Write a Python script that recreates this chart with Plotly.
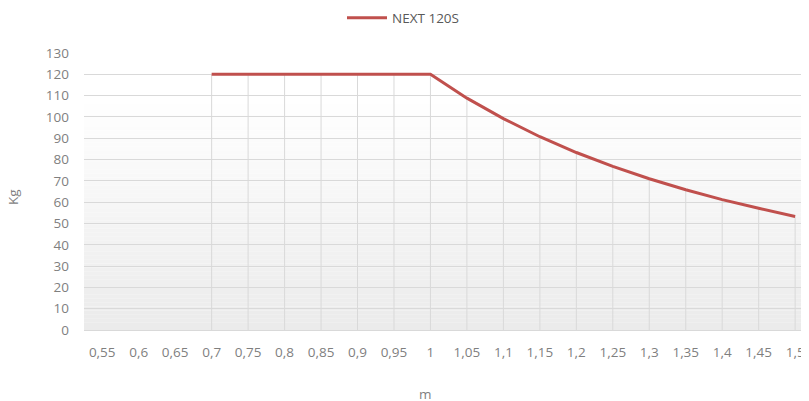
import plotly.graph_objects as go

categories = ["0,55", "0,6", "0,65", "0,7", "0,75", "0,8", "0,85", "0,9", "0,95", "1",
              "1,05", "1,1", "1,15", "1,2", "1,25", "1,3", "1,35", "1,4", "1,45", "1,5"]
load_kg = [None, None, None, 120, 120, 120, 120, 120, 120, 120,
           108.8, 99.2, 90.7, 83.3, 76.8, 71.0, 65.8, 61.2, 57.1, 53.3]
y_ticks = [0, 10, 20, 30, 40, 50, 60, 70, 80, 90, 100, 110, 120, 130]
series_name = "NEXT 120S"

# page body has an 8px margin; figure sized and positioned to compensate
OFF = 8
W, H = 809 - OFF, 401 - OFF
L, T = 84 - OFF, 53 - OFF
PLOT_BOTTOM = 330 - OFF
B = H - PLOT_BOTTOM

fig = go.Figure()

# drop lines
fig.add_trace(go.Scatter(
    x=categories, y=load_kg, mode="markers", marker=dict(size=0.1, opacity=0),
    error_y=dict(type="data", symmetric=False, array=[0] * len(load_kg),
                 arrayminus=load_kg, color="#d9d9d9", thickness=1, width=0),
    showlegend=False, hoverinfo="skip"))

fig.add_trace(go.Scatter(
    x=categories, y=load_kg, mode="lines", name=series_name,
    line=dict(color="#c0504d", width=3), connectgaps=False))

# gradient background bands
n = 60
top = 110.0
for i in range(n):
    y0 = top * i / n
    y1 = top * (i + 1) / n
    t = i / (n - 1)
    c = int(round(0xeb + (0xff - 0xeb) * t))
    fig.add_shape(type="rect", xref="paper", yref="y", x0=0, x1=1, y0=y0, y1=y1,
                  fillcolor=f"rgb({c},{c},{c})", line=dict(width=0), layer="below")

FS = 13.5
fig.update_layout(
    width=W, height=H,
    margin=dict(l=L, r=0, t=T, b=B, autoexpand=False),
    paper_bgcolor="white", plot_bgcolor="rgba(0,0,0,0)",
    font=dict(family="Open Sans, Liberation Sans, sans-serif", size=FS, color="#7f7f7f"),
    showlegend=True,
    legend=dict(orientation="h", xref="container", yref="container",
                x=(403 - OFF) / W, xanchor="center", y=1 - (18 - OFF) / H, yanchor="middle",
                font=dict(size=FS, color="#595959"), itemwidth=40),
    xaxis=dict(type="category", categoryorder="array", categoryarray=categories,
               range=[-0.5, 19.38], showgrid=False, zeroline=False, automargin=False,
               showline=True, linecolor="#d9d9d9", linewidth=1,
               ticks="", ticklabelstandoff=10,
               tickfont=dict(size=FS, color="#7f7f7f")),
    yaxis=dict(range=[0, 130], tickvals=y_ticks, showgrid=True, gridcolor="#d9d9d9",
               gridwidth=1, zeroline=False, showline=False, ticks="", automargin=False,
               ticklabelstandoff=14, tickfont=dict(size=FS, color="#7f7f7f")),
    annotations=[
        dict(text="m", xref="paper", yref="paper", x=(425 - OFF - L) / (W - L),
             y=-(394 - OFF - PLOT_BOTTOM) / (H - T - B),
             showarrow=False, xanchor="center", yanchor="middle",
             font=dict(size=FS, color="#7f7f7f")),
        dict(text="Kg", xref="paper", yref="paper", x=-(L - (13 - OFF)) / (W - L),
             y=(PLOT_BOTTOM - (197 - OFF)) / (H - T - B),
             showarrow=False, xanchor="center", yanchor="middle", textangle=-90,
             font=dict(size=FS, color="#7f7f7f")),
    ],
)

fig.write_html("out.html")
